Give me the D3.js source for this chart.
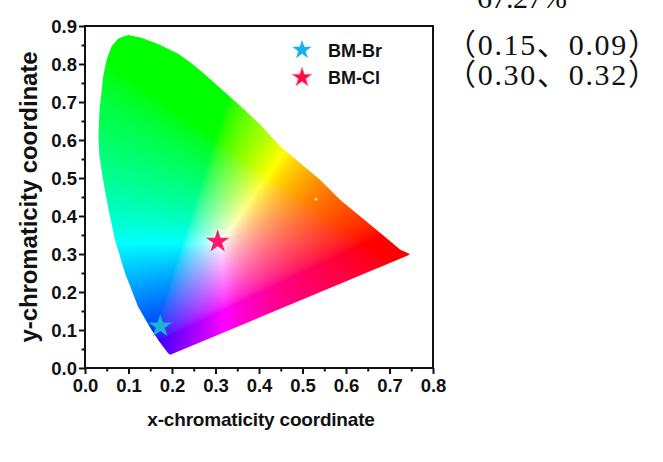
<!DOCTYPE html>
<html><head><meta charset="utf-8">
<script src="https://cdn.jsdelivr.net/npm/d3@7"></script>
<style>
html,body{margin:0;padding:0;background:#fff;}
svg{display:block;}
</style></head>
<body>
<script>
// ---- data ----
const xTicks = [0,0.1,0.2,0.3,0.4,0.5,0.6,0.7,0.8];
const xTickLabels = ["0.0","0.1","0.2","0.3","0.4","0.5","0.6","0.7","0.8"];
const yTicks = [0,0.1,0.2,0.3,0.4,0.5,0.6,0.7,0.8,0.9];
const yTickLabels = ["0.0","0.1","0.2","0.3","0.4","0.5","0.6","0.7","0.8","0.9"];
// boundary of the chromaticity region
const locusX = [0.196,0.191,0.172,0.153,0.122,0.092,0.069,0.053,0.040,0.033,0.031,0.0335,0.042,0.050,0.0614,0.0766,0.0996,0.130,0.169,0.215,0.240,0.265,0.290,0.322,0.357,0.403,0.449,0.495,0.541,0.587,0.633,0.679,0.725,0.747,0.742];
const locusY = [0.035,0.039,0.068,0.100,0.161,0.250,0.337,0.424,0.505,0.560,0.610,0.681,0.769,0.8125,0.847,0.867,0.876,0.869,0.852,0.826,0.806,0.783,0.758,0.725,0.690,0.640,0.583,0.539,0.495,0.442,0.399,0.355,0.311,0.300,0.296];
const seriesNames = ["BM-Br","BM-Cl"];
const seriesX = [0.173,0.305];
const seriesY = [0.110,0.333];
const seriesColors = ["#1bb3d6","#ff1a6e"];
const legendColors = ["#12b2f0","#ff0a3c"];
const noteLines = ["67.27%","\uFF080.15\u30010.09\uFF09","\uFF080.30\u30010.32\uFF09"];

// ---- layout ----
const W = 663, H = 462;
const x = d3.scaleLinear().domain([0,0.8]).range([85,433]);
const y = d3.scaleLinear().domain([0,0.9]).range([368,26]);

const svg = d3.select("body").append("svg").attr("width",W).attr("height",H);

// colour image of the diagram
const px0 = Math.round(x.range()[0]), px1 = Math.round(x.range()[1]);
const py0 = Math.round(y.range()[1]), py1 = Math.round(y.range()[0]);
const cw = px1-px0, ch = py1-py0;
const canvas = document.createElement("canvas");
canvas.width = cw; canvas.height = ch;
const ctx = canvas.getContext("2d");
const img = ctx.createImageData(cw,ch);
function gam(c){ return Math.pow(c,1/1.6); }
for(let j=0;j<ch;j++){
  for(let i=0;i<cw;i++){
    const cx = x.invert(px0+i+0.5), cy = y.invert(py0+j+0.5);
    const k = (j*cw+i)*4;
    if(cy<=0.001){ img.data[k+3]=0; continue; }
    const X = cx/cy, Y = 1, Z = (1-cx-cy)/cy;
    let r = 3.2406*X-1.5372*Y-0.4986*Z;
    let g = -0.9689*X+1.8758*Y+0.0415*Z;
    let b = 0.0557*X-0.2040*Y+1.0570*Z;
    r=Math.max(r,0); g=Math.max(g,0); b=Math.max(b,0);
    const m = Math.max(r,g,b)||1;
    r/=m; g/=m; b/=m;
    img.data[k]=Math.round(255*gam(r));
    img.data[k+1]=Math.round(255*gam(g));
    img.data[k+2]=Math.round(255*gam(b));
    img.data[k+3]=255;
  }
}
ctx.putImageData(img,0,0);

const locus = locusX.map((v,i)=>[v,locusY[i]]);
const line = d3.line().x(d=>x(d[0])).y(d=>y(d[1])).curve(d3.curveLinearClosed);
svg.append("clipPath").attr("id","locusClip").append("path").attr("d", line(locus));
svg.append("image")
  .attr("x",px0).attr("y",py0).attr("width",cw).attr("height",ch)
  .attr("preserveAspectRatio","none")
  .attr("href",canvas.toDataURL())
  .attr("clip-path","url(#locusClip)");

// axes
const fontAx = "'Liberation Sans', Arial, sans-serif";
const minorX = d3.range(0.05,0.8,0.1);
const minorY = d3.range(0.05,0.9,0.1);
const gx = svg.append("g").attr("transform",`translate(0,${y(0)})`)
  .call(d3.axisBottom(x).tickValues(xTicks).tickFormat((d,i)=>xTickLabels[i]).tickSize(6).tickSizeOuter(0));
const gxm = svg.append("g").attr("transform",`translate(0,${y(0)})`)
  .call(d3.axisBottom(x).tickValues(minorX).tickFormat("").tickSize(3.5).tickSizeOuter(0));
const gy = svg.append("g").attr("transform",`translate(${x(0)},0)`)
  .call(d3.axisLeft(y).tickValues(yTicks).tickFormat((d,i)=>yTickLabels[i]).tickSize(6).tickSizeOuter(0));
const gym = svg.append("g").attr("transform",`translate(${x(0)},0)`)
  .call(d3.axisLeft(y).tickValues(minorY).tickFormat("").tickSize(3.5).tickSizeOuter(0));
[gx,gxm,gy,gym].forEach(g=>{
  g.select(".domain").remove();
  g.selectAll(".tick line").attr("stroke","#111").attr("stroke-width",2);
  g.selectAll("text").attr("font-family",fontAx).attr("font-weight","bold").attr("font-size",18.5).attr("fill","#111");
});
gx.selectAll("text").attr("dy","0.95em").attr("y",6);
gy.selectAll("text").attr("x",-8).attr("dy","0.36em");

// frame
svg.append("rect").attr("x",x(0)).attr("y",y(0.9)).attr("width",x(0.8)-x(0)).attr("height",y(0)-y(0.9))
  .attr("fill","none").attr("stroke","#111").attr("stroke-width",2);

// axis titles
svg.append("text").attr("x",(x(0)+x(0.8))/2+2).attr("y",426).attr("text-anchor","middle")
  .attr("font-family",fontAx).attr("font-weight","bold").attr("font-size",19).attr("letter-spacing",-0.2).attr("fill","#111")
  .text("x-chromaticity coordinate");
svg.append("text").attr("transform",`translate(37,${(y(0)+y(0.9))/2}) rotate(-90)`).attr("text-anchor","middle")
  .attr("font-family",fontAx).attr("font-weight","bold").attr("font-size",24).attr("letter-spacing",-0.1).attr("fill","#111")
  .text("y-chromaticity coordinate");

// small light dot
svg.append("circle").attr("cx",x(0.531)).attr("cy",y(0.444)).attr("r",1.5).attr("fill","#ffd0b0");

// data stars
const star = d3.symbol().type(d3.symbolStar).size(170);
svg.selectAll(".pt").data(seriesNames).join("path").attr("class","pt")
  .attr("transform",(d,i)=>`translate(${x(seriesX[i])},${y(seriesY[i])})`)
  .attr("d",star).attr("fill",(d,i)=>seriesColors[i]);

// legend
const lg = svg.append("g");
seriesNames.forEach((n,i)=>{
  const ly = 50 + i*27.5;
  lg.append("path").attr("transform",`translate(302,${ly})`).attr("d",d3.symbol().type(d3.symbolStar).size(115)())
    .attr("fill",legendColors[i]).attr("stroke", i===1?"#ff6a9a":"none").attr("stroke-width",0.8);
  lg.append("text").attr("x",328).attr("y",ly+6.5).attr("font-family",fontAx).attr("font-weight","bold")
    .attr("font-size",18).attr("fill","#111").text(n);
});

// side notes
const fontNote = "'Liberation Serif','Noto Sans CJK SC',serif";
svg.append("text").attr("x",477).attr("y",8).attr("font-family",fontNote).attr("font-size",30)
  .attr("textLength",90).attr("lengthAdjust","spacing").attr("fill","#111").text(noteLines[0]);
[noteLines[1],noteLines[2]].forEach((t,i)=>{
  svg.append("text").attr("x",446).attr("y",55+i*30).attr("font-family",fontNote).attr("font-size",30)
    .attr("textLength",212).attr("lengthAdjust","spacing").attr("fill","#111").text(t);
});
</script>
</body></html>
